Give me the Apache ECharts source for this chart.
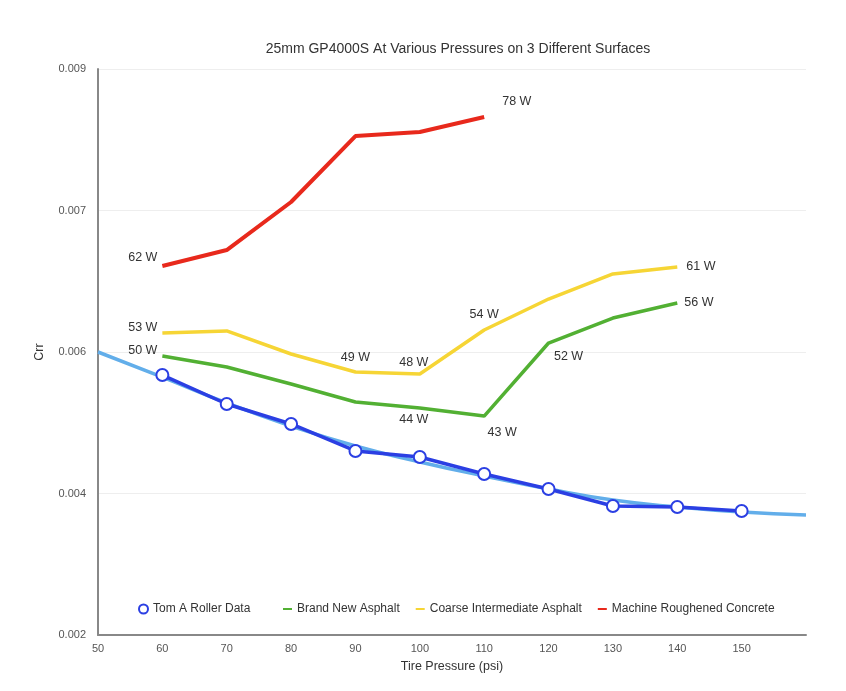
<!DOCTYPE html>
<html>
<head>
<meta charset="utf-8">
<script src="https://cdn.jsdelivr.net/npm/echarts@6/dist/echarts.min.js"></script>
<style>
  html, body { margin: 0; padding: 0; background: #fff; }
  #chart { width: 846px; height: 691px; }
</style>
</head>
<body>
<div id="chart"></div>
<script>
// tire pressure (psi)
const pressures = [60, 70, 80, 90, 100, 110, 120, 130, 140, 150];
// roller data
const rollerCrr = [0.005215, 0.004857, 0.00461, 0.004276, 0.004201, 0.003991, 0.003806, 0.003595, 0.003583, 0.003534];
// trend line
const trendPressures = [50, 60, 70, 80, 90, 100, 110, 120, 130, 140, 150, 160];
const trendCrr = [0.0055, 0.00519, 0.00487, 0.004585, 0.004337, 0.00414, 0.003966, 0.003806, 0.00367, 0.003583, 0.003521, 0.003484];
// road surfaces
const newAsphaltCrr = [0.00545, 0.005314, 0.005104, 0.004882, 0.004807, 0.004708, 0.005611, 0.00592, 0.006106];
const coarseAsphaltCrr = [0.005735, 0.00576, 0.005475, 0.005252, 0.005228, 0.005772, 0.006155, 0.006465, 0.006551];
const concreteCrr = [0.006563, 0.006761, 0.007355, 0.008171, 0.008221, 0.008406];
// watt labels
const newAsphaltWatts = ["50 W", null, null, null, "44 W", "43 W", "52 W", null, "56 W"];
const coarseAsphaltWatts = ["53 W", null, null, "49 W", "48 W", "54 W", null, null, "61 W"];
const concreteWatts = ["62 W", null, null, null, null, "78 W"];
// y ticks
const yTicks = [0.002, 0.004, 0.006, 0.007, 0.009];

const chart = echarts.init(document.getElementById("chart"));

// where each watt label sits around its point
const labelPlace = {
  "50 W": ["left", [0, -5]],
  "44 W": ["bottom", [-6, 0]],
  "43 W": ["bottom", [18, 5]],
  "52 W": ["bottom", [20, 2]],
  "56 W": ["right", [2, 0]],
  "53 W": ["left", [0, -5]],
  "49 W": ["top", [0, -3]],
  "48 W": ["top", [-6, 0]],
  "54 W": ["top", [0, -4]],
  "61 W": ["right", [4, 0]],
  "62 W": ["left", [0, -9]],
  "78 W": ["right", [13, -15]],
};

function withLabels(values, watts) {
  return values.map((v, i) => {
    const item = { value: [pressures[i], v] };
    const w = watts[i];
    if (w) {
      item.label = {
        show: true,
        formatter: w,
        position: labelPlace[w][0],
        offset: labelPlace[w][1],
        color: "#333",
        fontSize: 12.5,
        distance: 5,
      };
    }
    return item;
  });
}

const font = "Liberation Sans, Arial, sans-serif";

const options = {
  animation: false,
  textStyle: { fontFamily: font },
  title: {
    text: "25mm GP4000S At Various Pressures on 3 Different Surfaces",
    left: 453,
    top: 37,
    textAlign: "center",
    textStyle: { fontSize: 14, fontWeight: "normal", color: "#333", fontFamily: font },
  },
  legend: [
    {
      data: [{ name: "Tom A Roller Data", icon: "emptyCircle" }],
      left: 133,
      top: 598,
      itemWidth: 9,
      itemHeight: 9,
      textStyle: { fontSize: 12, color: "#333" },
    },
    {
      data: ["Brand New Asphalt", "Coarse Intermediate Asphalt", "Machine Roughened Concrete"],
      left: 278,
      top: 598,
      itemWidth: 9,
      itemHeight: 2,
      itemGap: 16,
      icon: "rect",
      textStyle: { fontSize: 12, color: "#333" },
    },
  ],
  grid: { left: 98, right: 40, top: 69, bottom: 56 },
  xAxis: {
    type: "value",
    min: 50,
    max: 160,
    interval: 10,
    name: "Tire Pressure (psi)",
    nameLocation: "middle",
    nameGap: 25,
    nameTextStyle: { fontSize: 12.5, color: "#333" },
    axisLine: { lineStyle: { color: "#888", width: 2 } },
    axisTick: { show: false },
    splitLine: { show: false },
    axisLabel: {
      fontSize: 11,
      color: "#555",
      margin: 8,
      formatter: (v) => (v >= 160 ? "" : String(v)),
    },
  },
  yAxis: {
    type: "value",
    min: 0.002,
    max: 0.009,
    interval: 0.00175,
    name: "Crr",
    nameLocation: "middle",
    nameGap: 52,
    nameTextStyle: { fontSize: 12.5, color: "#333" },
    axisLine: { show: true, lineStyle: { color: "#888", width: 2 } },
    axisTick: { show: false },
    splitLine: { lineStyle: { color: "#eee" } },
    axisLabel: {
      fontSize: 11,
      color: "#555",
      margin: 12,
      formatter: (v) => {
        const idx = Math.round((v - 0.002) / 0.00175);
        return yTicks[idx] !== undefined ? yTicks[idx].toFixed(3) : "";
      },
    },
  },
  series: [
    {
      name: "trend",
      type: "line",
      data: trendPressures.map((p, i) => [p, trendCrr[i]]),
      smooth: true,
      showSymbol: false,
      lineStyle: { color: "#62aeea", width: 3.5 },
      z: 1,
    },
    {
      name: "Tom A Roller Data",
      type: "line",
      data: pressures.map((p, i) => [p, rollerCrr[i]]),
      symbol: "emptyCircle",
      symbolSize: 12,
      itemStyle: { color: "#2b3fe3", borderWidth: 3.5 },
      lineStyle: { color: "#2b3fe3", width: 3.5 },
      z: 3,
    },
    {
      name: "Brand New Asphalt",
      type: "line",
      data: withLabels(newAsphaltCrr, newAsphaltWatts),
      symbol: "circle",
      symbolSize: 0,
      itemStyle: { color: "#52b033" },
      lineStyle: { color: "#52b033", width: 3.5 },
    },
    {
      name: "Coarse Intermediate Asphalt",
      type: "line",
      data: withLabels(coarseAsphaltCrr, coarseAsphaltWatts),
      symbol: "circle",
      symbolSize: 0,
      itemStyle: { color: "#f6d535" },
      lineStyle: { color: "#f6d535", width: 3.5 },
    },
    {
      name: "Machine Roughened Concrete",
      type: "line",
      data: withLabels(concreteCrr, concreteWatts),
      symbol: "circle",
      symbolSize: 0,
      itemStyle: { color: "#e8291c" },
      lineStyle: { color: "#e8291c", width: 4 },
    },
  ],
};

chart.setOption(options);
</script>
</body>
</html>
